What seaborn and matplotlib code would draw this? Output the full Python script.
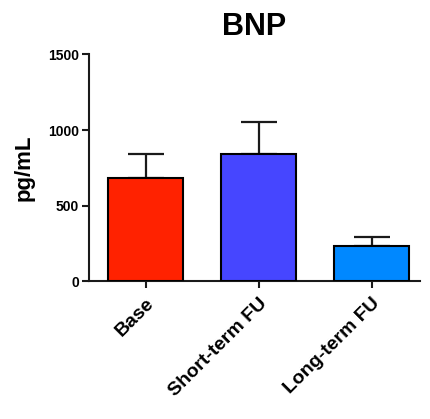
import matplotlib
matplotlib.use("Agg")
import matplotlib.pyplot as plt
import seaborn as sns
import pandas as pd
import numpy as np

categories = ["Base", "Short-term FU", "Long-term FU"]
means = [680, 840, 232]
errors = [160, 213, 60]
colors = ["#FF2200", "#4646FF", "#0088FF"]
yticks = [0, 500, 1000, 1500]

sns.set_style("ticks")
plt.rcParams['font.family'] = ['Liberation Sans', 'DejaVu Sans']
plt.rcParams['text.color'] = 'black'
plt.rcParams['axes.labelcolor'] = 'black'
plt.rcParams['xtick.color'] = 'black'
plt.rcParams['ytick.color'] = 'black'

df = pd.DataFrame({"cat": categories, "val": means})

fig = plt.figure(figsize=(4.3, 4.19), dpi=100)
ax = fig.add_axes([0.207, 0.329, 0.770, 0.541])

sns.barplot(data=df, x="cat", y="val", hue="cat", palette=colors, order=categories,
            errorbar=None, width=0.66, edgecolor="black", linewidth=1.5,
            saturation=1, legend=False, ax=ax, zorder=3)

x = np.arange(len(categories))
ax.errorbar(x, means, yerr=[np.zeros(len(errors)), errors], fmt="none",
            ecolor="#1a1a1a", elinewidth=1.6, capsize=13, capthick=1.6, zorder=2)

ax.set_ylim(0, 1500)
ax.set_xlim(-0.5, 2.43)
ax.set_yticks(yticks)
ax.set_yticklabels([str(v) for v in yticks], fontsize=10, fontweight="bold")
ax.set_xticks(x)
ax.set_xticklabels(categories, rotation=45, ha="right", rotation_mode="anchor",
                   fontsize=14, fontweight="bold")
ax.set_xlabel("")
ax.set_ylabel("pg/mL", fontsize=16, fontweight="bold", labelpad=10)
ax.set_title("BNP", fontsize=22, fontweight="bold", pad=14)

for s in ["top", "right"]:
    ax.spines[s].set_visible(False)
for s in ["left", "bottom"]:
    ax.spines[s].set_linewidth(1.5)
    ax.spines[s].set_color("#1a1a1a")
ax.tick_params(axis="both", direction="out", length=5, width=1.5, color="#1a1a1a")
ax.tick_params(axis="y", pad=2)
ax.tick_params(axis="x", pad=5)

fig.savefig("out.png", dpi=100)
